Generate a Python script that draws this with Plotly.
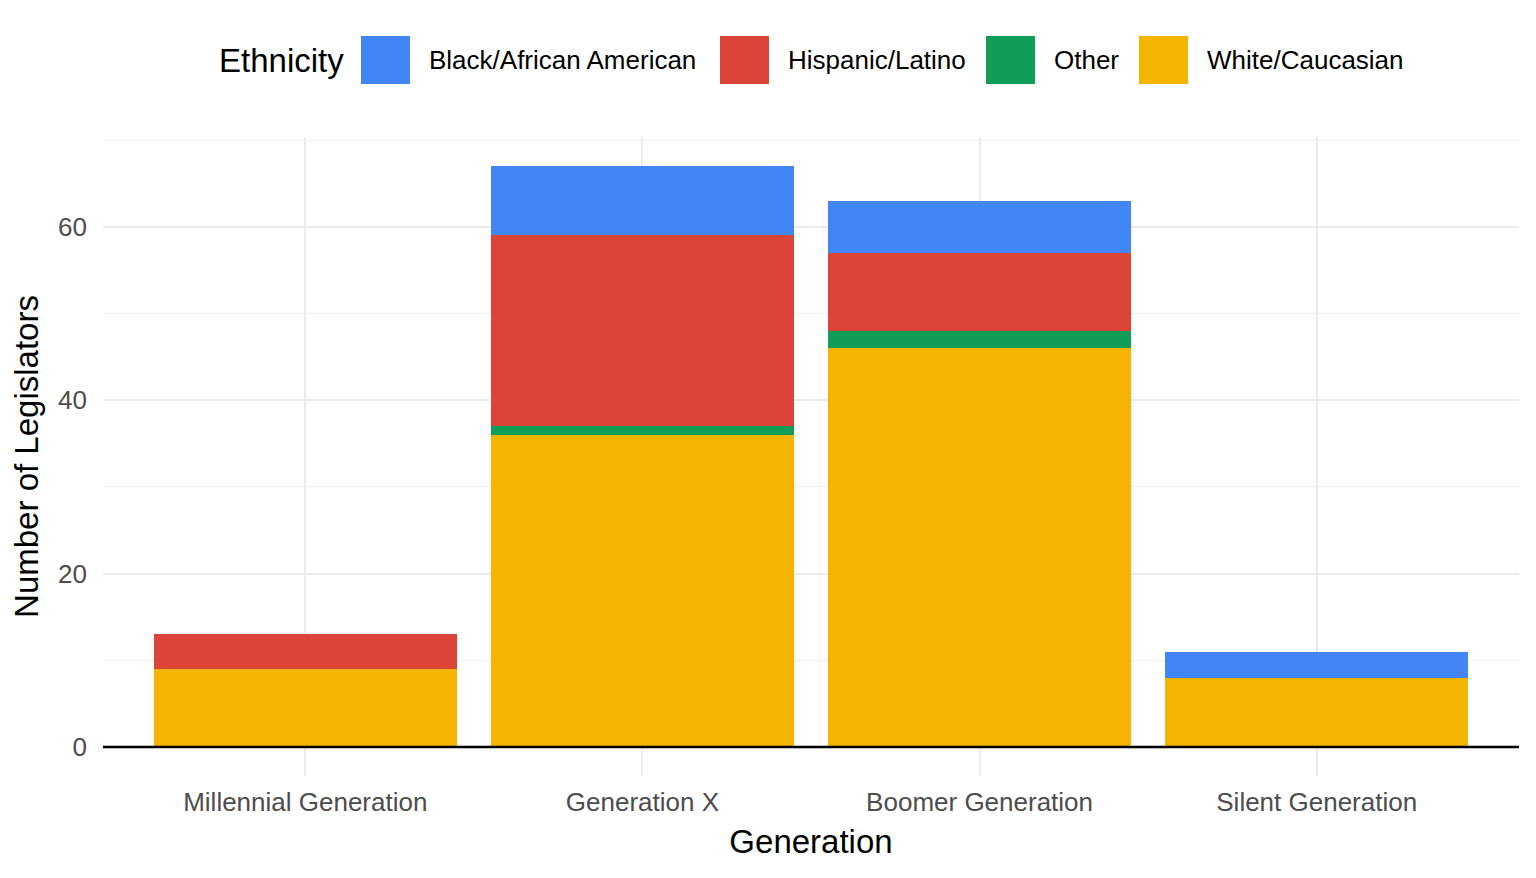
import plotly.graph_objects as go

# ---- data ----
generations = ["Millennial Generation", "Generation X", "Boomer Generation", "Silent Generation"]
white = [9, 36, 46, 8]
other = [0, 1, 2, 0]
hispanic = [4, 22, 9, 0]
black = [0, 8, 6, 3]

legend_names = ["Black/African American", "Hispanic/Latino", "Other", "White/Caucasian"]
colors = {
    "Black/African American": "#4285F4",
    "Hispanic/Latino": "#DB4437",
    "Other": "#0F9D58",
    "White/Caucasian": "#F4B400",
}

OFF = 8  # page body margin
W, H = 1536 - OFF, 878 - OFF
ML, MR, MT, MB = 103 - OFF, 17, 137 - OFF, 102
PW, PH = W - ML - MR, H - MT - MB

def px_x(px):
    return (px - OFF - ML) / PW

def px_y(py):
    return (H - MB - (py - OFF)) / PH

FONT = "Liberation Sans, Arial, Helvetica, sans-serif"

fig = go.Figure()
stack = [("White/Caucasian", white), ("Other", other), ("Hispanic/Latino", hispanic), ("Black/African American", black)]
for name, vals in stack:
    fig.add_trace(go.Bar(
        x=generations, y=vals, name=name,
        marker=dict(color=colors[name], line=dict(width=0)),
        width=0.9, showlegend=False,
    ))

# zero line
fig.add_shape(type="line", xref="paper", yref="y", x0=0, x1=1, y0=0, y1=0,
              line=dict(color="black", width=2.5), layer="above")

# custom legend (large keys as in the reference)
annotations = [dict(text="Ethnicity", xref="paper", yref="paper", x=px_x(217), y=px_y(60),
                    xanchor="left", yanchor="middle", showarrow=False,
                    font=dict(size=33, color="black", family=FONT))]
key_left = [361, 720, 986, 1139]
for name, kx in zip(legend_names, key_left):
    fig.add_shape(type="rect", xref="paper", yref="paper",
                  x0=px_x(kx), x1=px_x(kx + 49), y0=px_y(84), y1=px_y(36),
                  fillcolor=colors[name], line=dict(width=0))
    annotations.append(dict(text=name, xref="paper", yref="paper", x=px_x(kx + 66), y=px_y(60),
                            xanchor="left", yanchor="middle", showarrow=False,
                            font=dict(size=26, color="black", family=FONT)))

fig.update_layout(
    width=W, height=H,
    margin=dict(l=ML, r=MR, t=MT, b=MB),
    barmode="stack", bargap=0.1,
    plot_bgcolor="white", paper_bgcolor="white",
    font=dict(family=FONT, size=26, color="#4D4D4D"),
    annotations=annotations,
    xaxis=dict(
        range=[-0.6, 3.6], showgrid=True, gridcolor="#EBEBEB", gridwidth=2.2,
        zeroline=False, showline=False, ticks="", ticklabelstandoff=8,
        tickfont=dict(size=26, color="#4D4D4D"),
        title=dict(text="Generation", font=dict(size=33, color="black"), standoff=13),
    ),
    yaxis=dict(
        range=[-3.35, 70.35], tickvals=[0, 20, 40, 60],
        showgrid=True, gridcolor="#EBEBEB", gridwidth=2.2,
        minor=dict(tickvals=[10, 30, 50, 70], showgrid=True, gridcolor="#EEEEEE", gridwidth=1.3),
        zeroline=False, showline=False, ticks="", ticklabelstandoff=15,
        tickfont=dict(size=26, color="#4D4D4D"),
        title=dict(text="Number of Legislators", font=dict(size=33, color="black"), standoff=9),
    ),
)

fig.write_html("out.html")
